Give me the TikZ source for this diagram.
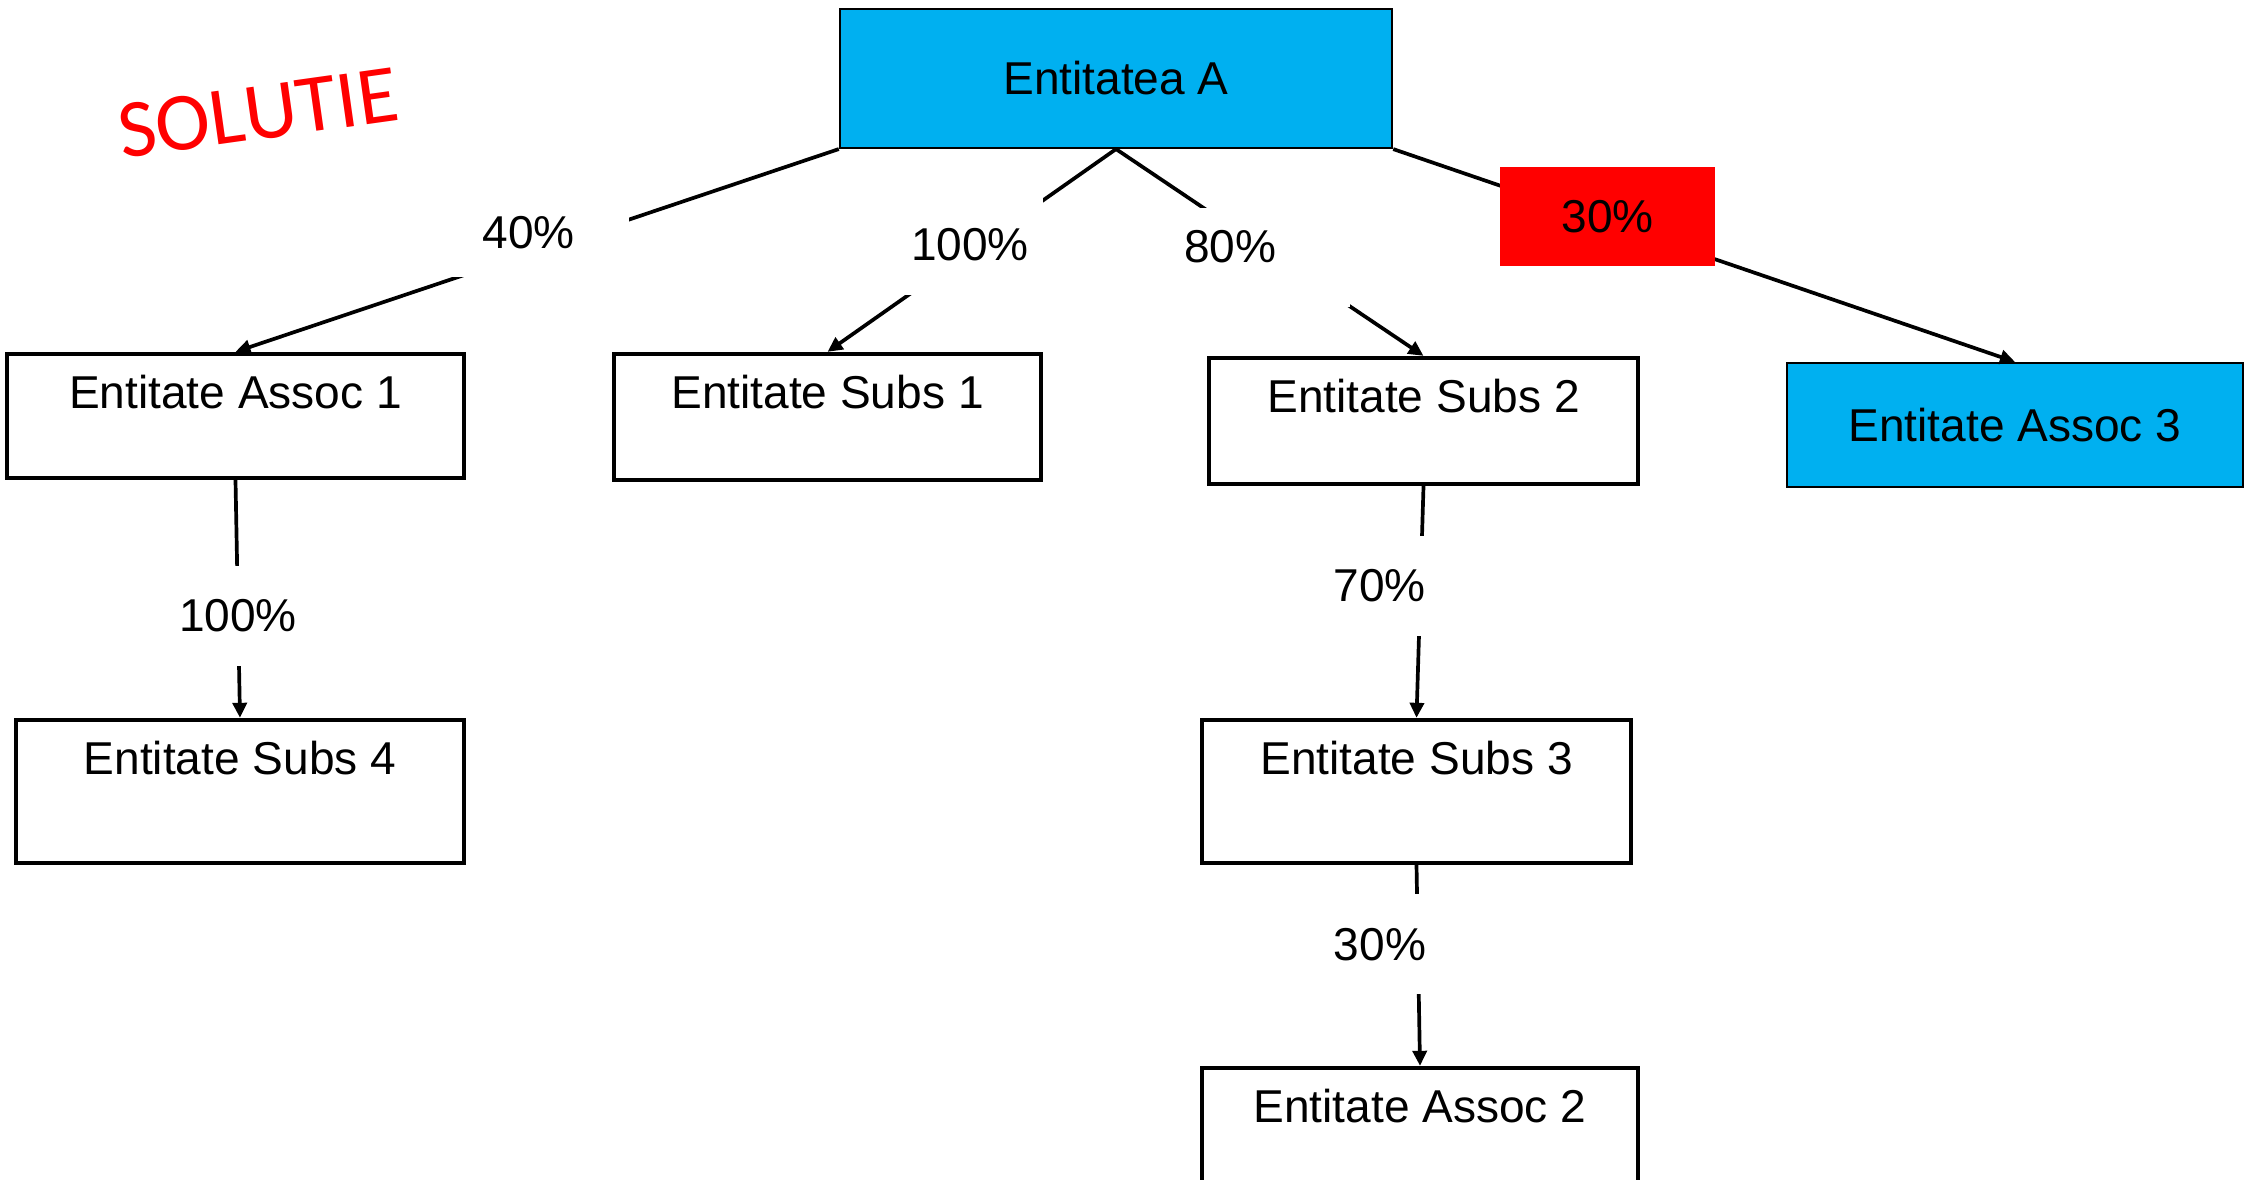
\documentclass[tikz,border=0pt]{standalone}
\usepackage{fontspec}
\setmainfont{Liberation Sans}
\newfontfamily\solfont[Kerning=Off]{Carlito}
\usetikzlibrary{arrows.meta}
\definecolor{entcyan}{HTML}{00B0F0}
\definecolor{entred}{HTML}{FF0000}

% A white entity box: name, position, width, text depth, text
% The text sits near the top of the box, so the depth fills the rest of the height
\newcommand{\entbox}[5]{\node[entity, minimum width=#3, text depth=#4] (#1) at (#2) {#5};}

\begin{document}
\begin{tikzpicture}[
      x=0.01cm, y=-0.01cm,
      font=\fontsize{13.1}{15}\selectfont,
      entity/.style={rectangle, draw=black, line width=1.2pt, inner ysep=0pt, text height=5.5mm},
      mainbox/.style={rectangle, draw=black, line width=0.6pt, fill=entcyan},
      pointer/.style={line width=1.05pt, -{Triangle[length=1.5mm,width=1.4mm]}, draw=black},
      pct/.style={fill=white, inner sep=0pt},
      share/.style={fill=entred, inner sep=0pt, minimum width=2.15cm, minimum height=0.98cm},
      solutie/.style={text=entred, font=\solfont\fontsize{23.5}{28}\selectfont}
      ]
      \useasboundingbox (0,0) rectangle (2246,1180);

      % The parent entity and the associate that it also owns directly (both in cyan)
      \node[mainbox, minimum width=5.52cm, minimum height=1.39cm] (entA) at (1116,78.5) {Entitatea A};
      \node[mainbox, minimum width=4.56cm, minimum height=1.24cm] (assoc3) at (2015,425) {Entitate Assoc 3};

      % The other entities, with the name at the top of each box
      \entbox{assoc1}{235.5,416}{4.57cm}{6.9mm}{Entitate Assoc 1}
      \entbox{subs1}{827.5,417}{4.27cm}{7.1mm}{Entitate Subs 1}
      \entbox{subs2}{1423.5,421}{4.29cm}{7.1mm}{Entitate Subs 2}
      \entbox{subs4}{240,791.5}{4.48cm}{8.8mm}{Entitate Subs 4}
      \entbox{subs3}{1416.5,791.5}{4.29cm}{8.8mm}{Entitate Subs 3}
      \entbox{assoc2}{1420,1139.5}{4.36cm}{8.8mm}{Entitate Assoc 2}

      \node[solutie, rotate=8] (title) at (258,113) {SOLUTIE};

      % Now the ownership pointers
      % Each percentage sits on a white box that breaks the line under it
      \path (entA.south west) edge [pointer] node[pct, pos=0.514, yshift=2.1mm, minimum width=2cm, minimum height=9mm] (p40) {40\%} (assoc1.north);
      \path (entA.south) edge [pointer] node[pct, pos=0.506, yshift=0.7mm, minimum width=1.45cm, minimum height=1cm] (p100a) {100\%} (subs1.north);
      % here the text sits in the upper left part of its white box
      \path (entA.south) edge [pointer] node[pct, pos=0.485, yshift=-0.8mm, inner xsep=0.4mm, text width=1.62cm, align=left, text height=5.45mm, text depth=4.45mm] (p80) {80\%} (subs2.north);
      % The 30% to the third associate is marked in red
      \path (entA.south east) edge [pointer] node[share, pos=0.345, yshift=0.6mm] (p30a) {30\%} (assoc3.north);
      \path (assoc1.south) edge [pointer] node[pct, pos=0.57, minimum width=1.4cm, minimum height=1cm] (p100b) {100\%} (subs4.north);
      \path (subs2.south) edge [pointer] node[pct, pos=0.43, xshift=-4.1mm, minimum width=1.1cm, minimum height=1cm] (p70) {70\%} (subs3.north);
      \path (subs3.south) edge [pointer] node[pct, pos=0.395, xshift=-3.8mm, minimum width=1.1cm, minimum height=1cm] (p30b) {30\%} (assoc2.north);
    \end{tikzpicture}
\end{document}
